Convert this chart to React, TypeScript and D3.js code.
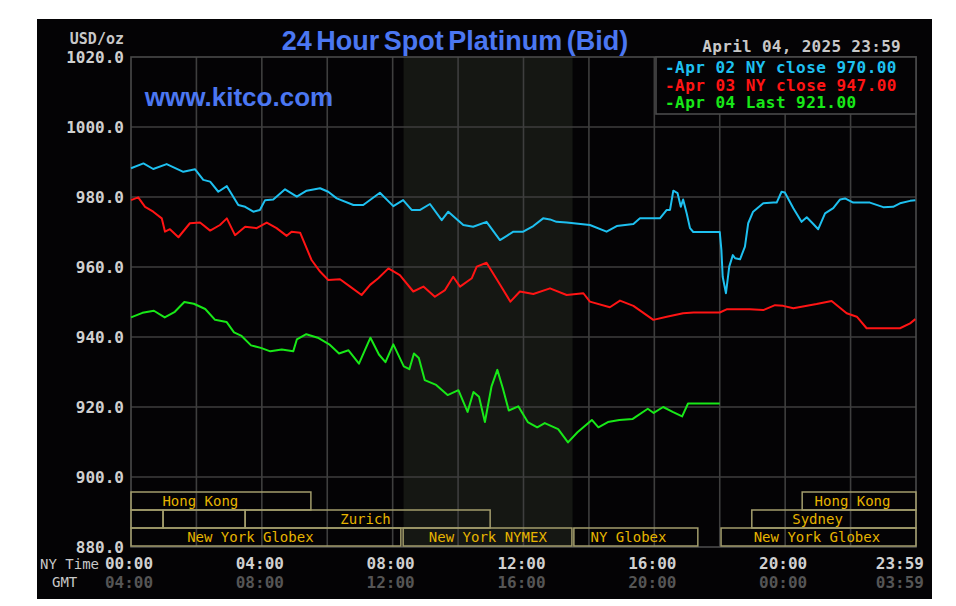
import React from "react";
import * as d3 from "d3";

// ---- data (hours in NY time, USD/oz) ----
const blueTimes = [0,0.38,0.68,1.09,1.6,1.96,2.21,2.42,2.67,2.93,3.28,3.49,3.74,3.94,4.1,4.35,4.71,5.07,5.37,5.78,6.03,6.29,6.8,7.1,7.61,8.02,8.32,8.58,8.84,9.14,9.5,9.7,10.16,10.46,10.87,11.28,11.49,11.69,11.99,12.3,12.6,12.81,13.01,13.32,14.03,14.54,14.85,15.36,15.56,16.17,16.38,16.48,16.58,16.71,16.81,16.88,16.99,17.09,17.19,18.0,18.05,18.09,18.19,18.29,18.4,18.47,18.62,18.77,18.87,19.02,19.33,19.64,19.74,19.89,19.99,20.25,20.5,20.66,20.86,21.01,21.22,21.47,21.68,21.83,22.08,22.59,23.0,23.3,23.51,23.82,23.98];
const blueValues = [988.2,989.6,988.0,989.4,987.2,987.9,984.9,984.4,981.5,983.1,977.7,977.2,975.8,976.3,979.1,979.3,982.2,980.1,981.8,982.5,981.5,979.6,977.7,977.7,981.2,977.4,979.1,976.3,976.3,978.0,973.4,975.8,972.0,971.5,972.9,967.7,968.9,970.1,970.1,971.7,973.9,973.6,972.9,972.7,972.0,970.1,971.7,972.3,973.9,973.9,976.3,976.3,981.8,981.1,977.2,979.3,975.3,971.1,970.0,970.0,964.9,957.2,952.5,960.1,963.4,962.5,962.2,965.8,972.5,975.8,978.2,978.4,978.4,981.5,981.3,976.8,972.9,974.2,972.3,970.8,975.3,976.8,979.3,979.6,978.4,978.4,977.1,977.2,978.2,978.9,979.1];

const redTimes = [0,0.22,0.43,0.68,0.94,1.04,1.19,1.45,1.8,2.11,2.42,2.72,2.93,3.18,3.49,3.84,4.15,4.45,4.76,4.91,5.17,5.52,5.78,6.03,6.39,6.7,7.05,7.31,7.56,7.87,8.22,8.63,8.94,9.29,9.6,9.85,10.06,10.42,10.57,10.87,11.28,11.6,11.89,12.3,12.81,13.32,13.83,14.03,14.64,14.95,15.36,15.97,16.38,16.88,17.2,18.0,18.21,18.92,19.33,19.69,19.94,20.25,20.96,21.42,21.88,22.19,22.49,22.9,23.51,23.82,23.98];
const redValues = [979.1,979.9,977.2,975.8,973.9,970.1,970.8,968.5,972.5,972.7,970.4,972.0,973.9,969.1,971.5,971.1,972.7,971.1,968.9,970.1,969.8,962.0,958.7,956.3,956.5,954.4,952.0,954.9,956.8,959.6,957.7,953.0,954.4,951.5,953.4,957.2,954.4,956.8,960.1,961.2,955.0,950.1,953.0,952.3,953.9,952.0,952.5,950.1,948.5,950.4,948.9,944.9,945.8,946.8,947.0,947.0,947.9,947.9,947.7,949.1,948.9,948.2,949.4,950.3,946.8,945.8,942.5,942.5,942.5,943.9,945.1];

const greenTimes = [0,0.35,0.7,1.03,1.34,1.63,1.92,2.27,2.57,2.92,3.15,3.38,3.67,3.97,4.26,4.61,4.96,5.07,5.36,5.71,6.06,6.36,6.65,6.97,7.32,7.58,7.78,8.02,8.34,8.51,8.65,8.8,8.98,9.33,9.68,10.01,10.29,10.47,10.64,10.82,11.02,11.2,11.37,11.55,11.84,12.13,12.42,12.65,13.06,13.36,13.65,14.09,14.29,14.58,14.93,15.34,15.8,15.98,16.27,16.56,16.85,17.03,18.0];
const greenValues = [945.6,946.9,947.5,945.6,947.2,950.0,949.5,948.0,944.9,944.3,941.3,940.3,937.6,936.9,935.9,936.4,935.9,939.3,940.8,939.8,937.9,935.3,936.2,932.4,939.8,935.0,932.8,937.9,931.6,930.8,935.3,934.0,927.7,926.3,923.4,924.8,918.6,924.3,922.9,915.7,925.8,930.6,925.3,919.0,920.2,915.7,914.2,915.4,913.7,909.9,912.8,916.3,914.2,915.7,916.3,916.6,919.5,918.3,920.0,918.6,917.3,921.0,921.0];

const legendLabels = ["-Apr 02 NY close 970.00", "-Apr 03 NY close 947.00", "-Apr 04 Last 921.00"];
const seriesColors = ["#1ec0f0", "#ff1414", "#18e818"];

const yTicks = [880, 900, 920, 940, 960, 980, 1000, 1020];
const xTickHours = [0, 4, 8, 12, 16, 20, 24];
const nyTickLabels = ["00:00", "04:00", "08:00", "12:00", "16:00", "20:00", "23:59"];
const gmtTickLabels = ["04:00", "08:00", "12:00", "16:00", "20:00", "00:00", "03:59"];
const gridHours = [2, 4, 6, 8, 10, 12, 14, 16, 18, 20, 22];

const nymexStart = 8.333;
const nymexEnd = 13.5;

// session bars: row, start hour, end hour, label, label centre hour
const sessionRows = [0, 0, 1, 1, 1, 1, 2, 2, 2, 2];
const sessionStarts = [0, 20.52, 0, 0.98, 3.49, 18.98, 0, 8.32, 13.54, 18.04];
const sessionEnds = [5.5, 24, 0.98, 3.49, 10.98, 24, 8.25, 13.48, 17.33, 24];
const sessionLabels = ["Hong Kong", "Hong Kong", "", "", "Zurich", "Sydney", "New York Globex", "New York NYMEX", "NY Globex", "New York Globex"];
const sessionLabelAt = [2.12, 22.06, 0, 0, 7.17, 20.99, 3.65, 10.91, 15.21, 20.97];

export default function App() {
  const W = 956, H = 606;
  const L = 131, R = 916, T = 57, B = 547;
  const x = d3.scaleLinear().domain([0, 24]).range([L, R]);
  const y = d3.scaleLinear().domain([880, 1020]).range([B, T]);
  const line = d3.line<[number, number]>().x(d => x(d[0])).y(d => y(d[1])).curve(d3.curveLinear);
  const series = [
    d3.zip(blueTimes, blueValues) as [number, number][],
    d3.zip(redTimes, redValues) as [number, number][],
    d3.zip(greenTimes, greenValues) as [number, number][],
  ];
  const mono = "'DejaVu Sans Mono', monospace";
  const sans = "'Liberation Sans', Arial, sans-serif";
  const rowTop = [492, 510, 528];
  const rowH = 18;
  const gridColor = "#3e3e3e";

  return (
    <svg width={W} height={H} style={{ position: "absolute", left: 0, top: 0, background: "#fff" }}>
      <rect x={0} y={0} width={W} height={H} fill="#ffffff" />
      <rect x={37} y={19} width={895} height={580} fill="#040305" />
      {/* NYMEX shading */}
      <rect x={x(nymexStart)} y={T} width={x(nymexEnd) - x(nymexStart)} height={B - T} fill="#151713" />
      {/* grid */}
      {gridHours.map(h => (
        <line key={"gv" + h} x1={x(h)} x2={x(h)} y1={T} y2={B} stroke={gridColor} strokeWidth={1.6} />
      ))}
      {yTicks.filter(v => v > 880 && v < 1020).map(v => (
        <line key={"gh" + v} x1={L} x2={R} y1={y(v)} y2={y(v)} stroke={gridColor} strokeWidth={1.6} />
      ))}
      <rect x={L} y={T} width={R - L} height={B - T} fill="none" stroke="#4a4a4a" strokeWidth={1.6} />

      {/* session bars */}
      {sessionRows.map((r, i) => (
        <g key={"s" + i}>
          <rect x={x(sessionStarts[i])} y={rowTop[r]} width={x(sessionEnds[i]) - x(sessionStarts[i])} height={rowH}
            fill="none" stroke="#a39d6c" strokeWidth={1.5} />
          {sessionLabels[i] && (
            <text x={x(sessionLabelAt[i])} y={rowTop[r] + 14} textAnchor="middle" fill="#e6b400"
              fontFamily={mono} fontSize={14}>{sessionLabels[i]}</text>
          )}
        </g>
      ))}

      {/* series */}
      {series.map((s, i) => (
        <path key={"p" + i} d={line(s) || ""} fill="none" stroke={seriesColors[i]} strokeWidth={2} strokeLinejoin="round" />
      ))}

      {/* legend */}
      <rect x={656} y={T} width={R - 656} height={57} fill="#040305" stroke="#4a4a4a" strokeWidth={1.6} />
      {legendLabels.map((t, i) => (
        <text key={"l" + i} x={665} y={73 + i * 17.7} fill={seriesColors[i]} fontFamily={mono} fontSize={16} letterSpacing={0.45} fontWeight="bold">{t}</text>
      ))}
      <text x={901} y={52} textAnchor="end" fill="#c8c8c8" fontFamily={mono} fontSize={16} letterSpacing={0.3} fontWeight="bold">April 04, 2025 23:59</text>

      {/* titles */}
      <text x={455} y={50} textAnchor="middle" fill="#4b77f2" fontFamily={sans} fontSize={27} wordSpacing={-3} fontWeight="bold">24 Hour Spot Platinum (Bid)</text>
      <text x={239} y={106} textAnchor="middle" fill="#4b77f2" fontFamily={sans} fontSize={26} fontWeight="bold">www.kitco.com</text>

      {/* y axis */}
      <text x={124} y={44} textAnchor="end" fill="#c8c8c8" fontFamily={mono} fontSize={15} fontWeight="bold">USD/oz</text>
      {yTicks.map(v => (
        <text key={"yt" + v} x={124} y={y(v) + 5.5} textAnchor="end" fill="#d0d0d0" fontFamily={mono} fontSize={16} fontWeight="bold">{v.toFixed(1)}</text>
      ))}

      {/* x axis */}
      <text x={40} y={569} fill="#c8c8c8" fontFamily={mono} fontSize={14}>NY Time</text>
      <text x={52} y={587} fill="#c8c8c8" fontFamily={mono} fontSize={14}>GMT</text>
      {xTickHours.map((h, i) => {
        const last = i === xTickHours.length - 1;
        const xx = last ? x(h) + 8 : x(h) - 2;
        const anchor = last ? "end" : "middle";
        return (
          <g key={"xt" + i}>
            <text x={xx} y={569} textAnchor={anchor} fill="#d0d0d0" fontFamily={mono} fontSize={16} fontWeight="bold">{nyTickLabels[i]}</text>
            <text x={xx} y={588} textAnchor={anchor} fill="#555555" fontFamily={mono} fontSize={16} fontWeight="bold">{gmtTickLabels[i]}</text>
          </g>
        );
      })}
    </svg>
  );
}
